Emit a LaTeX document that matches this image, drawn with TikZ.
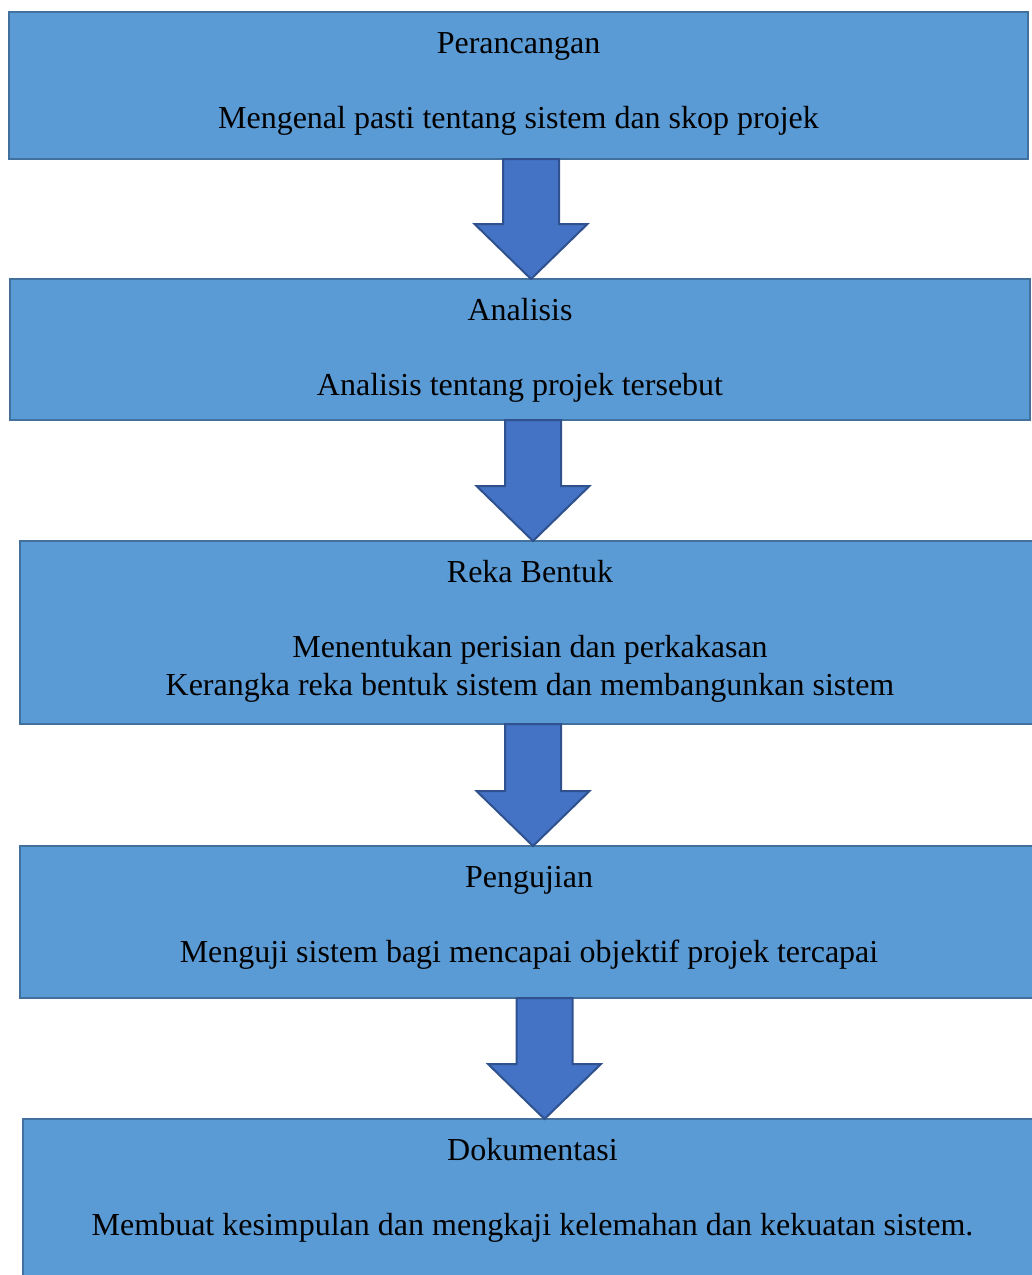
\documentclass[tikz,border=0pt]{standalone}
\usepackage{fontspec}
\setmainfont{Liberation Serif}
\usepackage{tikz}
\usetikzlibrary{
  calc,
  fit
}
\definecolor{boxfill}{RGB}{91, 155, 213}
\definecolor{boxline}{RGB}{65, 113, 156}
\definecolor{arrowfill}{RGB}{68, 114, 196}
\definecolor{arrowline}{RGB}{47, 82, 143}
\tikzset{
stagebox/.style={
  draw=boxline,
  line width=2pt,
  fill=boxfill,
  inner sep=0pt,
  outer sep=0pt
},
stagetext/.style={
  font=\fontsize{24}{28.5}\selectfont,
  text=black,
  align=center,
  inner sep=0pt,
  anchor=base
},
stagearrow/.style={
  draw=arrowline,
  line width=1.5pt,
  fill=arrowfill,
  line join=miter
}
}
% block arrow from the bottom of #1 to the top of #2, axis at x=#3
\newcommand{\stagearrow}[3]{
  \draw[stagearrow]
    ($(#1.south -| #3,0)+(-28,0)$) -- ($(#1.south -| #3,0)+(28,0)$)
    -- ($(#2.north -| #3,0)+(28,-55)$) -- ($(#2.north -| #3,0)+(56.5,-55)$)
    -- (#2.north -| #3,0)
    -- ($(#2.north -| #3,0)+(-56.5,-55)$) -- ($(#2.north -| #3,0)+(-28,-55)$)
    -- cycle;
}

\begin{document}
\begin{tikzpicture}[x=0.75pt, y=-0.75pt]
  \useasboundingbox (0,0) rectangle (1032,1275);
  % Text offsets below the top edge of a box
  \def\titleY{41}
  \def\bodyY{116}

  % Box 1: Perancangan
  \node[stagebox, fit={(9,12) (1028,159)}] (perancangan) {};
  \node[stagetext] (perancanganT) at ($(perancangan.north)+(0,\titleY)$) {Perancangan};
  \node[stagetext] (perancanganB) at ($(perancangan.north)+(0,\bodyY)$) {Mengenal pasti tentang sistem dan skop projek};

  % Box 2: Analisis
  \node[stagebox, fit={(10,279) (1030,420)}] (analisis) {};
  \node[stagetext] (analisisT) at ($(analisis.north)+(0,\titleY)$) {Analisis};
  \node[stagetext] (analisisB) at ($(analisis.north)+(0,\bodyY)$) {Analisis tentang projek tersebut};

  % Box 3: Reka Bentuk (two body lines, base sits on the last one)
  \node[stagebox, fit={(20,541) (1040,724)}] (rekabentuk) {};
  \node[stagetext] (rekabentukT) at ($(rekabentuk.north)+(0,\titleY)$) {Reka Bentuk};
  \node[stagetext] (rekabentukB) at ($(rekabentuk.north)+(0,\bodyY+38)$) {Menentukan perisian dan perkakasan\\Kerangka reka bentuk sistem dan membangunkan sistem};

  % Box 4: Pengujian
  \node[stagebox, fit={(20,846) (1038,998)}] (pengujian) {};
  \node[stagetext] (pengujianT) at ($(pengujian.north)+(0,\titleY)$) {Pengujian};
  \node[stagetext] (pengujianB) at ($(pengujian.north)+(0,\bodyY)$) {Menguji sistem bagi mencapai objektif projek tercapai};

  % Box 5: Dokumentasi
  \node[stagebox, fit={(23,1119) (1042,1295)}] (dokumentasi) {};
  \node[stagetext] (dokumentasiT) at ($(dokumentasi.north)+(0,\titleY)$) {Dokumentasi};
  \node[stagetext] (dokumentasiB) at ($(dokumentasi.north)+(0,\bodyY)$) {Membuat kesimpulan dan mengkaji kelemahan dan kekuatan sistem.};

  % Block arrows between the stages
  \stagearrow{perancangan}{analisis}{531}
  \stagearrow{analisis}{rekabentuk}{533}
  \stagearrow{rekabentuk}{pengujian}{533}
  \stagearrow{pengujian}{dokumentasi}{544.5}
\end{tikzpicture}
\end{document}
